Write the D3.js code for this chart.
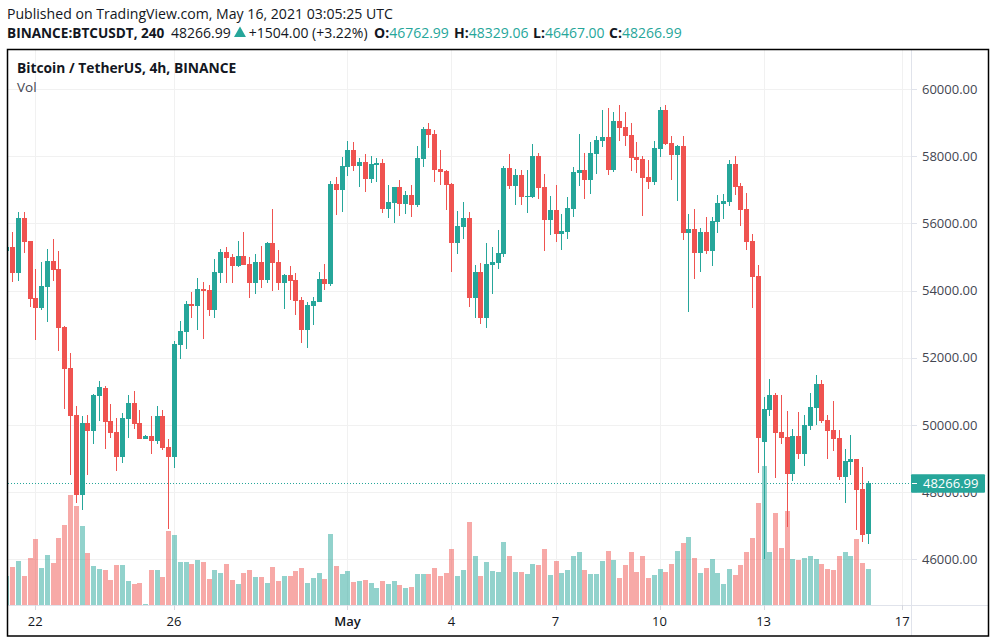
<!DOCTYPE html>
<html><head><meta charset="utf-8">
<script src="https://cdn.jsdelivr.net/npm/d3@7/dist/d3.min.js"></script>
<style>html,body{margin:0;padding:0;background:#fff}svg{display:block}text{font-family:"Open Sans",sans-serif}</style>
</head><body><div id="chart"></div>
<script>
const opens=[55176,55295,54531,56158,55474,53778,53480,54105,54879,54641,
52914,51694,50296,47915,50058,49819,50861,51099,50117,49790,
49046,50176,50653,50058,49581,49671,49522,50266,49343,49046,
52379,52766,53599,53539,54045,54016,53420,54522,55146,54998,54730,
55034,54796,54230,54855,54319,55420,54855,54230,54468,54319,
53724,52831,53546,53665,54349,54200,57176,56998,57682,58188,
57712,57831,57325,57742,57801,56432,56611,57087,56581,56849,
56551,57920,58813,58664,57623,57563,57176,55420,55897,56165,
53784,54558,53188,54766,54825,55093,57653,57117,57444,56789,
56789,58010,57087,56105,56403,55688,55748,56432,57504,57593,
57295,58069,58456,58575,57593,59051,58873,58635,57980,57920,
57385,57236,58218,59379,58397,58039,58307,55718,55837,55123,
55748,55183,56046,56581,56641,57772,57117,56433,55480,54439,
49498,50451,50897,49796,49647,48546,49677,49141,49975,50510,
51225,50153,49856,49618,48457,48903,48993,48100,46762.99];
const highs=[55320,55742,56337,56337,55474,54641,54849,55236,55533,55176,
52944,52141,50563,50266,50296,50921,51307,51159,50623,50206,
50355,50891,51010,50444,49700,50266,50563,50444,49581,52498,
53093,53688,53956,54373,54254,54164,54938,55236,55295,55087,55474,
55748,55004,55093,55331,55450,56432,55212,54498,54736,54528,
53813,53665,53813,54557,54796,57266,57385,57980,58456,58426,
57950,58069,58010,57950,57920,57147,57087,57295,56968,57147,
58307,58873,58992,58783,58188,57593,57206,56373,56641,56343,
54766,54825,55421,55301,55807,57712,58069,57623,57593,57593,
58367,58099,57474,56819,57147,56284,56789,57682,58664,58099,
58426,58605,59379,59438,59319,59527,59319,58992,58426,58010,
57891,58456,59468,59527,58605,58337,58605,56284,56433,55867,
56194,56194,56849,56879,57891,58010,57206,56909,55689,54766,
50838,51373,50957,50897,50421,49885,50391,50302,50957,51492,
51344,50302,50719,49856,49290,49707,48993,48754,48329.06];
const lows=[55150,54254,54283,55117,53510,52528,53420,53063,54283,52200,
50474,48510,47677,47469,48510,49432,50117,49284,49611,48629,
48867,49611,49879,49581,49581,49135,49432,49254,46903,48718,
51962,52260,53182,52825,52557,53242,53182,54224,54224,54224,54700,
54766,53784,53903,54081,54230,53992,54022,53456,53724,53278,
52445,52296,52980,53665,54022,54141,56254,56343,57414,57563,
57087,56938,57206,57236,56313,56164,56016,56224,56284,56194,
56492,57682,58248,57236,57147,56403,54557,55093,55540,53516,
53188,53010,52891,53903,54647,55004,57028,56551,56551,56313,
56760,56730,55182,55659,55450,55212,55540,56194,57117,56730,
56879,57474,58277,57444,57534,58456,58307,57563,57504,56224,
57028,57147,57980,58337,57295,56670,55510,53367,54349,54558,
55093,54736,55718,56135,56522,56849,55927,55212,53486,48576,
46007,50272,48427,49439,46969,48338,48993,48784,49856,50004,
50064,48993,49231,48368,47683,48516,46880,46523,46467];
const closes=[55295,54531,56158,55444,53758,53480,54135,54879,54611,52885,
51665,50266,47915,50058,49819,50891,51129,50087,49760,49046,
50206,50653,50028,49581,49671,49522,50266,49313,49046,52409,
52795,53599,53539,54045,53986,53420,54551,55146,54968,54730,55027,
54766,54230,54855,54319,55420,54825,54230,54468,54290,53694,
52831,53575,53694,54349,54200,57176,56998,57712,58188,57712,
57831,57325,57772,57801,56432,56641,57087,56581,56849,56551,
57950,58813,58635,57593,57533,57147,55420,55926,56164,53784,
54558,53188,54796,54855,55123,57653,57117,57444,56789,56819,
58010,57057,56105,56403,55688,55778,56462,57533,57593,57295,
58099,58486,58575,57593,59051,58843,58605,57950,57891,57355,
57236,58248,59379,58367,58039,58307,55718,55837,55123,55748,
55183,56075,56611,56671,57772,57087,56403,55450,54409,49618,
50481,50897,49766,49618,48546,49677,49141,50004,50540,51225,
50123,49826,49588,48457,48933,48993,48070,46731,48266.99];
const volumes=[8700,11400,13200,8700,14100,19800,11100,15000,12600,20100,
24000,33000,29700,23700,15600,11700,10800,10500,7500,12000,
12000,7200,6300,6600,300,10500,10500,8400,22200,21000,
12900,12900,12300,13500,12900,7800,10500,9600,12300,7500,6300,
9600,10500,8400,8400,6600,11400,7200,8700,8700,10200,
11100,6600,8100,9600,7800,21300,11700,9300,10200,6900,
7200,7500,6600,5100,7200,6300,7200,6000,5100,5400,
9300,9300,9300,11100,8700,9600,16800,8700,10500,24900,
14700,8700,12900,10200,9900,18900,14700,9900,9900,9300,
12300,12000,16800,9000,13200,9600,10500,14700,15900,10500,
9300,9300,13200,16200,13500,8100,12000,15900,9900,14700,
8100,9000,10800,9900,12300,16200,18600,20400,14100,9600,
11100,13800,9600,6300,10800,9000,12000,15900,20100,30600,
41700,15900,27600,17100,28200,13800,13500,14100,14700,13800,
12300,10800,10500,14700,15900,14700,19800,12600,10800];
const priceTicks=[46000,48000,50000,52000,54000,56000,58000,60000];
const timeTicks=[["2021-04-22","22"],["2021-04-26","26"],["2021-05-01","May"],["2021-05-04","4"],["2021-05-07","7"],["2021-05-10","10"],["2021-05-13","13"],["2021-05-17","17"]];
const lastPrice=48266.99;
const firstBar=Date.UTC(2021,3,21,4);
const FOUR_H=4*3600*1000;

const UP="#26a69a",DOWN="#ef5350",UPV="rgba(38,166,154,0.5)",DOWNV="rgba(239,83,80,0.5)",GRID="#f1f1f1",INK="#131722",AX="#434651";
const W=997,H=644;
const svg=d3.select("#chart").append("svg").attr("width",W).attr("height",H);
const L=8,T=50,R=912,B=605,RR=989,BB=636;
const x=d3.scaleUtc().domain([new Date("2021-04-22T00:00Z"),new Date("2021-05-17T00:00Z")]).range([35.3,902.3]);
const y=d3.scaleLinear().domain([46000,60000]).range([559.4,89.0]);
const v=d3.scaleLinear().domain([0,41700]).range([605,466]);
const bars=opens.map((o,i)=>({t:new Date(firstBar+i*FOUR_H),o,h:highs[i],l:lows[i],c:closes[i],v:volumes[i],up:closes[i]>=o}));
const px=d=>Math.round(x(d.t));

svg.append("defs").append("clipPath").attr("id","plot").append("rect").attr("x",L).attr("y",T).attr("width",R-L).attr("height",B-T);

// grid
const grid=svg.append("g").attr("shape-rendering","crispEdges");
grid.selectAll("line.h").data(priceTicks).join("line").attr("x1",L).attr("x2",R).attr("y1",d=>Math.round(y(d))+.5).attr("y2",d=>Math.round(y(d))+.5).attr("stroke",GRID);
grid.selectAll("line.v").data(timeTicks).join("line").attr("y1",T).attr("y2",B).attr("x1",d=>Math.round(x(new Date(d[0]+"T00:00Z")))+.5).attr("x2",d=>Math.round(x(new Date(d[0]+"T00:00Z")))+.5).attr("stroke",GRID);

const plot=svg.append("g").attr("clip-path","url(#plot)").attr("shape-rendering","crispEdges");
plot.selectAll("rect.vol").data(bars).join("rect").attr("class","vol").attr("x",d=>px(d)-2).attr("width",5)
 .attr("y",d=>v(d.v)).attr("height",d=>B-v(d.v)).attr("fill",d=>d.up?UPV:DOWNV);
// last price line
plot.append("line").attr("x1",L).attr("x2",R).attr("y1",Math.round(y(lastPrice))+.5).attr("y2",Math.round(y(lastPrice))+.5)
 .attr("stroke",UP).attr("stroke-dasharray","1 2");
plot.selectAll("rect.wick").data(bars).join("rect").attr("class","wick").attr("x",d=>px(d)).attr("width",1)
 .attr("y",d=>y(d.h)).attr("height",d=>y(d.l)-y(d.h)).attr("fill",d=>d.up?UP:DOWN);
plot.selectAll("rect.body").data(bars).join("rect").attr("class","body").attr("x",d=>px(d)-2).attr("width",5)
 .attr("y",d=>y(Math.max(d.o,d.c))).attr("height",d=>Math.max(1,y(Math.min(d.o,d.c))-y(Math.max(d.o,d.c)))).attr("fill",d=>d.up?UP:DOWN);

// axes separators
const ax=svg.append("g").attr("shape-rendering","crispEdges");
ax.append("line").attr("x1",R-.5).attr("x2",R-.5).attr("y1",T).attr("y2",BB).attr("stroke","#e0e3eb");
ax.append("line").attr("x1",L).attr("x2",RR).attr("y1",B+.5).attr("y2",B+.5).attr("stroke","#e0e3eb");
ax.selectAll("line.pt").data(priceTicks).join("line").attr("x1",R).attr("x2",R+5).attr("y1",d=>Math.round(y(d))+.5).attr("y2",d=>Math.round(y(d))+.5).attr("stroke","#e0e3eb");
ax.selectAll("line.tt").data(timeTicks).join("line").attr("y1",B).attr("y2",B+5).attr("x1",d=>Math.round(x(new Date(d[0]+"T00:00Z")))+.5).attr("x2",d=>Math.round(x(new Date(d[0]+"T00:00Z")))+.5).attr("stroke","#d6d8df");

const fmt=d3.format(".2f");
svg.append("g").selectAll("text").data(priceTicks).join("text").attr("x",922).attr("y",d=>y(d)+4.5).attr("font-size",13).attr("fill",AX).text(d=>fmt(d));
svg.append("g").selectAll("text").data(timeTicks).join("text").attr("x",d=>x(new Date(d[0]+"T00:00Z"))).attr("y",626).attr("text-anchor","middle").attr("font-size",13)
 .attr("font-weight",d=>d[1]==="May"?600:400).attr("fill",INK).text(d=>d[1]);

// last price label
const ly=y(lastPrice);
svg.append("rect").attr("x",911).attr("y",ly-9).attr("width",74).attr("height",18.5).attr("rx",1).attr("fill",UP);
svg.append("line").attr("x1",912).attr("x2",917).attr("y1",Math.round(ly)+.5).attr("y2",Math.round(ly)+.5).attr("stroke","#fff").attr("shape-rendering","crispEdges");
svg.append("text").attr("x",923).attr("y",ly+4.5).attr("font-size",13).attr("fill","#fff").text(fmt(lastPrice));

// frame
svg.append("rect").attr("x",7.5).attr("y",49.5).attr("width",981).attr("height",586.5).attr("fill","none").attr("stroke","#000").attr("stroke-width",1.5);

// header
svg.append("text").attr("x",7).attr("y",19.3).attr("font-size",14.1).attr("fill",INK).text("Published on TradingView.com, May 16, 2021 03:05:25 UTC");
svg.append("text").attr("x",7).attr("y",37.5).attr("font-size",13.6).attr("font-weight",700).attr("fill",INK).text("BINANCE:BTCUSDT, 240");
svg.append("text").attr("x",171).attr("y",37.5).attr("font-size",14).attr("fill",INK).text("48266.99");
svg.append("path").attr("d",d3.symbol(d3.symbolTriangle,62)()).attr("transform","translate(240,33.5)").attr("fill",UP);
svg.append("text").attr("x",248.7).attr("y",37.5).attr("font-size",14).attr("fill",INK).text("+1504.00 (+3.22%)");
const ohlc=[["O:","46762.99",374],["H:","48329.06",454],["L:","46467.00",533],["C:","48266.99",609]];
ohlc.forEach(([k,val,xx])=>{
 const t=svg.append("text").attr("x",xx).attr("y",37.5).attr("font-size",14);
 t.append("tspan").attr("font-weight",700).attr("fill",INK).text(k);
 t.append("tspan").attr("fill",UP).text(val);
});
svg.append("text").attr("x",17).attr("y",72.7).attr("font-size",13.8).attr("font-weight",700).attr("fill",INK).text("Bitcoin / TetherUS, 4h, BINANCE");
svg.append("text").attr("x",17).attr("y",92).attr("font-size",13.5).attr("fill",AX).text("Vol");
</script></body></html>
